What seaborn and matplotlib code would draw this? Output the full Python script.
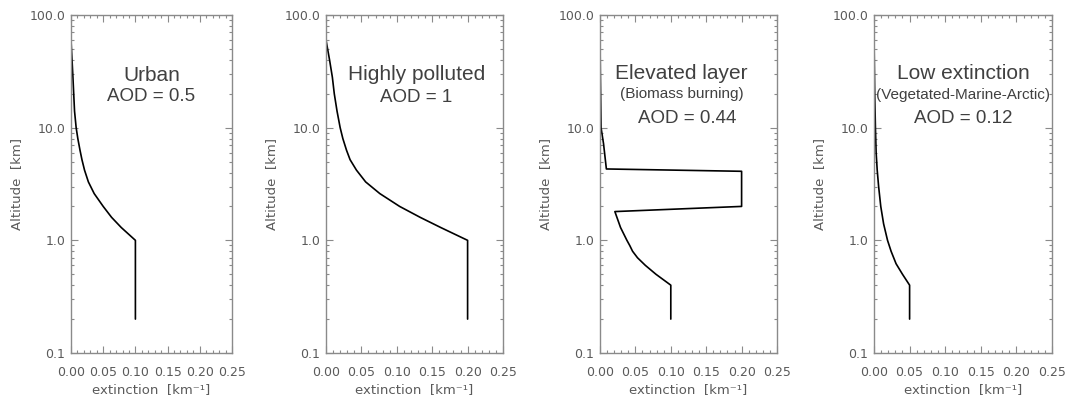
import pandas as pd
import seaborn as sns
from matplotlib import pyplot as plt
from matplotlib.ticker import FixedLocator, LogLocator, NullFormatter, FixedFormatter

# profile data: altitude in km, extinction in km^-1
urban_alt = [0.2, 1.0, 1.3, 1.6, 2.0, 2.6, 3.3, 4.2, 5.2, 6.3, 8.0, 10, 14, 20, 28, 40, 60]
urban_ext = [0.1, 0.1, 0.078, 0.063, 0.050, 0.036, 0.027, 0.021, 0.017, 0.014, 0.0106, 0.008, 0.0055, 0.0042, 0.003, 0.0016, 0.0]

polluted_alt = [0.2, 1.0, 1.3, 1.6, 2.0, 2.6, 3.3, 4.2, 5.2, 6.3, 8.0, 10, 14, 20, 28, 40, 60]
polluted_ext = [0.2, 0.2, 0.162, 0.133, 0.104, 0.076, 0.056, 0.043, 0.034, 0.029, 0.0238, 0.020, 0.0156, 0.0117, 0.009, 0.005, 0.0]

elevated_alt = [0.2, 0.4, 0.5, 0.6, 0.7, 0.8, 0.9, 1.0, 1.3, 1.8, 2.0, 4.1, 4.3, 7.2, 10, 30, 60]
elevated_ext = [0.1, 0.1, 0.079, 0.064, 0.053, 0.046, 0.042, 0.038, 0.029, 0.021, 0.2, 0.2, 0.009, 0.005, 0.0015, 0.0005, 0.0]

low_alt = [0.2, 0.4, 0.5, 0.62, 0.8, 1.0, 1.4, 2.0, 3.0, 4.2, 6.0, 10, 20, 40, 64]
low_ext = [0.05, 0.05, 0.040, 0.031, 0.024, 0.019, 0.0135, 0.0095, 0.0065, 0.0045, 0.003, 0.002, 0.001, 0.0004, 0.0]

panel_titles = ["Urban", "Highly polluted", "Elevated layer", "Low extinction"]
panel_subtitles = ["", "", "(Biomass burning)", "(Vegetated-Marine-Arctic)"]
panel_aod = ["AOD = 0.5", "AOD = 1", "AOD = 0.44", "AOD = 0.12"]

xtick_vals = [0.0, 0.05, 0.10, 0.15, 0.20, 0.25]
xtick_labels = ["0.00", "0.05", "0.10", "0.15", "0.20", "0.25"]
ytick_vals = [0.1, 1.0, 10.0, 100.0]
ytick_labels = ["0.1", "1.0", "10.0", "100.0"]

# axes boxes in pixels (left, right), shared top/bottom
W, H = 1067, 399
boxes = [(71, 232), (326, 503), (600, 777), (874, 1052)]
top_px, bot_px = 15, 353
# text positions (axes fraction) per panel
title_xy = [(0.50, 0.822), (0.51, 0.825), (0.46, 0.828), (0.50, 0.828)]
sub_xy = [None, None, (0.46, 0.766), (0.50, 0.763)]
aod_xy = [(0.50, 0.758), (0.51, 0.755), (0.49, 0.695), (0.50, 0.695)]

AXIS_GRAY = "#8a8a8a"
LABEL_GRAY = "#5a5a5a"
TEXT_GRAY = "#404040"


def main():
    sns.set_style("ticks")
    plt.rcParams["font.family"] = ["DejaVu Sans"]

    profiles = [(urban_alt, urban_ext), (polluted_alt, polluted_ext),
                (elevated_alt, elevated_ext), (low_alt, low_ext)]

    fig = plt.figure(figsize=(W / 100, H / 100), dpi=100)

    for i, (alt, ext) in enumerate(profiles):
        left, right = boxes[i]
        ax = fig.add_axes([left / W, 1 - bot_px / H, (right - left) / W, (bot_px - top_px) / H])
        df = pd.DataFrame({"alt": alt, "ext": ext})
        sns.lineplot(data=df, x="ext", y="alt", sort=False, estimator=None,
                     color="black", linewidth=1.2, ax=ax)

        ax.set_yscale("log")
        ax.set_xlim(0, 0.25)
        ax.set_ylim(0.1, 100)

        # ticks inward on all sides
        ax.xaxis.set_major_locator(FixedLocator(xtick_vals))
        ax.xaxis.set_major_formatter(FixedFormatter(xtick_labels))
        ax.xaxis.set_minor_locator(FixedLocator([k * 0.01 for k in range(26)]))
        ax.yaxis.set_major_locator(FixedLocator(ytick_vals))
        ax.yaxis.set_major_formatter(FixedFormatter(ytick_labels))
        ax.yaxis.set_minor_locator(LogLocator(base=10, subs=range(2, 10)))
        ax.yaxis.set_minor_formatter(NullFormatter())
        ax.tick_params(which="both", direction="in", top=True, right=True,
                       color=AXIS_GRAY, width=0.8, labelcolor=LABEL_GRAY, labelsize=9)
        ax.tick_params(which="major", length=5)
        ax.tick_params(which="minor", length=2.5)
        ax.tick_params(axis="x", which="both", pad=9)
        ax.tick_params(axis="y", which="both", pad=4)
        for sp in ax.spines.values():
            sp.set_color(AXIS_GRAY)
            sp.set_linewidth(1.0)

        ax.set_xlabel("extinction  [km⁻¹]", color=LABEL_GRAY, fontsize=9.5, labelpad=3)
        ax.set_ylabel("Altitude  [km]", color=LABEL_GRAY, fontsize=9.5, labelpad=5)

        # panel annotations
        tx, ty = title_xy[i]
        ax.text(tx, ty, panel_titles[i], transform=ax.transAxes, ha="center", va="center",
                fontsize=15, color=TEXT_GRAY, family=["Liberation Sans", "DejaVu Sans"])
        if sub_xy[i] is not None:
            sx, sy = sub_xy[i]
            ax.text(sx, sy, panel_subtitles[i], transform=ax.transAxes, ha="center", va="center",
                    fontsize=11, color=TEXT_GRAY, family=["Liberation Sans", "DejaVu Sans"])
        axx, axy = aod_xy[i]
        ax.text(axx, axy, panel_aod[i], transform=ax.transAxes, ha="center", va="center",
                fontsize=13.5, color=TEXT_GRAY, family=["Liberation Sans", "DejaVu Sans"])

    fig.savefig("out.png", dpi=100)


main()
